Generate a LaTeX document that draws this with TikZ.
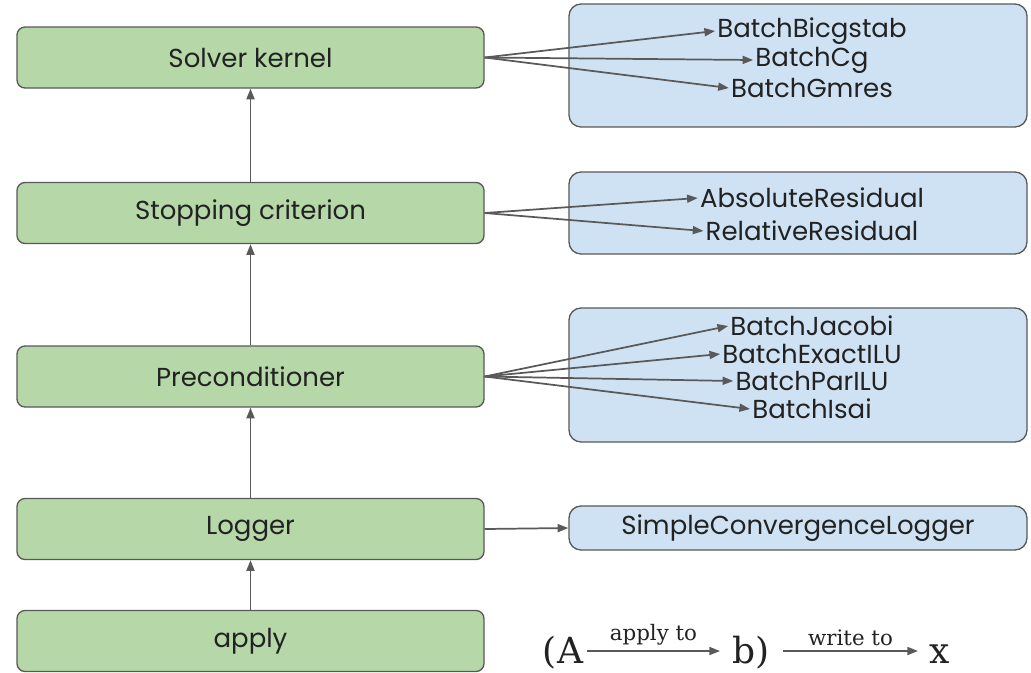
\documentclass[tikz,border=0pt]{standalone}
\usepackage{fontspec}
\setmainfont{Poppins}
\newfontfamily\slabfont{DejaVu Serif}
\usetikzlibrary{arrows.meta, positioning}
\definecolor{stagegreen}{HTML}{B6D7A8}
\definecolor{optblue}{HTML}{CFE2F3}
\definecolor{edgegray}{HTML}{595959}
\definecolor{inkdark}{HTML}{222222}

\begin{document}
\begin{tikzpicture}[
  x=0.75pt, y=-0.75pt,
  stage/.style={rectangle, draw=edgegray, line width=1pt, fill=stagegreen, rounded corners=6pt, minimum width=350.25pt, minimum height=45.75pt, font=\fontsize{19.5}{22}\selectfont, text=inkdark},
  optbox/.style={rectangle, draw=edgegray, line width=1pt, fill=optblue, rounded corners=9pt},
  opt/.style={inner sep=1.5pt, font=\fontsize{19.5}{22}\selectfont, text=inkdark},
  arrow/.style={-{Triangle[length=8pt, width=6pt]}, edgegray, line width=1.3pt},
  legend/.style={font=\slabfont\fontsize{27}{30}\selectfont, text=inkdark, inner sep=1pt},
  verb/.style={above, font=\slabfont\fontsize{16}{18}\selectfont, text=inkdark}
]
  \useasboundingbox (0,0) rectangle (1031,672);

  % Stages of the solver
  \node[stage] (kernel) at (250.5,57.5) {Solver kernel};
  \node[stage] (stop) at (250.5,213) {Stopping criterion};
  \node[stage] (precond) at (250.5,376.5) {Preconditioner};
  \node[stage] (logger) at (250.5,529) {Logger};
  \node[stage] (apply) at (250.5,641) {apply};

  % Option boxes
  \draw[optbox] (569,4) rectangle (1027,127);
  \draw[optbox] (569,172) rectangle (1027,254);
  \draw[optbox] (569,308) rectangle (1027,442);

  % Solver kernels
  \node[opt] (bicg) at (812,31) {BatchBicgstab};
  \node[opt] (cg) at (812,60) {BatchCg};
  \node[opt] (gmres) at (812,88) {BatchGmres};

  % Stopping criteria
  \node[opt] (absres) at (812,198) {AbsoluteResidual};
  \node[opt] (relres) at (812,231) {RelativeResidual};

  % Preconditioners
  \node[opt] (jacobi) at (812,326) {BatchJacobi};
  \node[opt] (exilu) at (812,354) {BatchExactILU};
  \node[opt] (parilu) at (812,381) {BatchParILU};
  \node[opt] (isai) at (812,409) {BatchIsai};

  % Logger
  \node[optbox, minimum width=343.5pt, minimum height=33pt, font=\fontsize{19.5}{22}\selectfont, text=inkdark] (simple) at (798,528) {SimpleConvergenceLogger};

  \draw[arrow] (apply) -- (logger);
  \draw[arrow] (logger) -- (precond);
  \draw[arrow] (precond) -- (stop);
  \draw[arrow] (stop) -- (kernel);

  \foreach \t in {bicg, cg, gmres}
    \draw[arrow] (kernel.east) -- (\t.west);
  \foreach \t in {absres, relres}
    \draw[arrow] (stop.east) -- (\t.west);
  \foreach \t in {jacobi, exilu, parilu, isai}
    \draw[arrow] (precond.east) -- (\t.west);
  \draw[arrow] (logger.east) -- (simple.west);

  % Legend
  \node[legend, anchor=base] (lhsA) at (563,663) {(A};
  \node[legend, anchor=base] (rhsb) at (751,663) {b)};
  \node[legend, anchor=base] (solx) at (940,663) {x};
  \coordinate (aout) at (587,651);
  \coordinate (bin) at (720,651);
  \coordinate (bout) at (783,651);
  \coordinate (xin) at (918,651);
  \draw[arrow] (aout) -- node[verb] {apply to} (bin);
  \draw[arrow] (bout) -- node[verb] {write to} (xin);
\end{tikzpicture}
\end{document}
